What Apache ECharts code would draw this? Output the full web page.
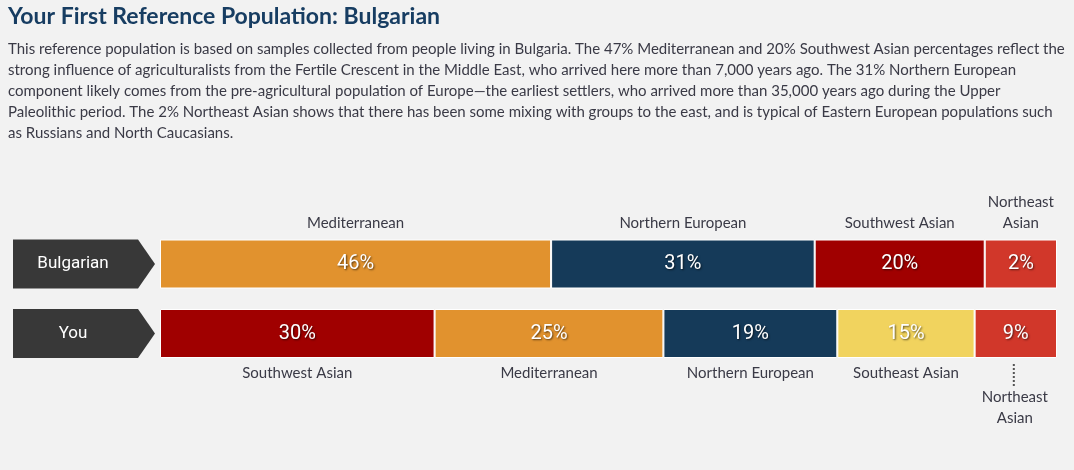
<!DOCTYPE html>
<html>
<head>
<meta charset="utf-8">
<script src="https://cdn.jsdelivr.net/npm/echarts@6/dist/echarts.min.js"></script>
<style>
html,body{margin:0;padding:0;background:#f2f2f2;}
#chart{width:1074px;height:470px;}
</style>
</head>
<body>
<div id="chart"></div>
<script>
// ---- data ----
const headingText = 'Your First Reference Population: Bulgarian';
const paragraphLines = [
  'This reference population is based on samples collected from people living in Bulgaria. The 47% Mediterranean and 20% Southwest Asian percentages reflect the',
  'strong influence of agriculturalists from the Fertile Crescent in the Middle East, who arrived here more than 7,000 years ago. The 31% Northern European',
  'component likely comes from the pre-agricultural population of Europe\u2014the earliest settlers, who arrived more than 35,000 years ago during the Upper',
  'Paleolithic period. The 2% Northeast Asian shows that there has been some mixing with groups to the east, and is typical of Eastern European populations such',
  'as Russians and North Caucasians.'
];
const rowLabels = ['Bulgarian', 'You'];
const bulgarianNames = ['Mediterranean', 'Northern European', 'Southwest Asian', 'Northeast Asian'];
const bulgarianValues = [46, 31, 20, 2];
const youNames = ['Southwest Asian', 'Mediterranean', 'Northern European', 'Southeast Asian', 'Northeast Asian'];
const youValues = [30, 25, 19, 15, 9];

// ---- styling ----
const colorByName = {
  'Mediterranean': '#e1922e',
  'Northern European': '#153a59',
  'Southwest Asian': '#a00000',
  'Northeast Asian': '#d1372a',
  'Southeast Asian': '#f1d35e'
};
const MIN_SEGMENT = 8.5;      // narrow segments are widened so their label fits
const NARROW_PX = 100;        // segments narrower than this get wrapped names
const textColor = '#3a3a46';
const gridLeft = 160, gridRight = 17, barH = 49;
const rowTops = [239.5, 309];

const rows = [
  {label: rowLabels[0], names: bulgarianNames, values: bulgarianValues, namesAbove: true},
  {label: rowLabels[1], names: youNames, values: youValues, namesAbove: false}
];

const grids = [], xAxes = [], yAxes = [], series = [];
rows.forEach((row, r) => {
  const widths = row.values.map(v => Math.max(v, MIN_SEGMENT));
  const total = widths.reduce((a, b) => a + b, 0);
  grids.push({left: gridLeft, right: gridRight, top: rowTops[r], height: barH});
  xAxes.push({type: 'value', gridIndex: r, min: 0, max: total, show: false});
  yAxes.push({type: 'category', gridIndex: r, data: [row.label], show: false});

  // segments
  row.names.forEach((name, i) => {
    series.push({
      type: 'bar', xAxisIndex: r, yAxisIndex: r, stack: 'row' + r,
      barWidth: '100%', silent: true, animation: false,
      data: [widths[i]],
      itemStyle: {color: colorByName[name], borderColor: '#ffffff', borderWidth: 1},
      label: {
        show: true, position: 'inside', color: '#ffffff',
        formatter: () => row.values[i] + '%',
        fontFamily: 'Roboto', fontSize: 20, fontWeight: 400,
        textShadowColor: 'rgba(0,0,0,0.6)', textShadowBlur: 2,
        textShadowOffsetX: 1, textShadowOffsetY: 1
      }
    });
  });

  // segment names
  let acc = 0;
  const nameData = row.names.map((name, i) => {
    const d = [acc, acc + widths[i], 0, name];
    acc += widths[i];
    return d;
  });
  series.push({
    type: 'custom', xAxisIndex: r, yAxisIndex: r, silent: true, animation: false,
    data: nameData,
    encode: {x: [0, 1], y: 2},
    renderItem: (params, api) => {
      const s = api.coord([api.value(0), 0]);
      const e = api.coord([api.value(1), 0]);
      const bandH = api.size([0, 1])[1];
      const cx = (s[0] + e[0]) / 2;
      const name = nameData[params.dataIndex][3];
      const narrow = (e[0] - s[0]) < NARROW_PX;
      const txt = narrow ? name.replace(' ', '\n') : name;
      const baseStyle = {
        text: txt, fill: textColor, fontFamily: 'Lato', fontSize: 15,
        align: 'center', lineHeight: 21
      };
      if (row.namesAbove) {
        return {type: 'text', style: Object.assign({x: cx, y: s[1] - bandH / 2 - 6, verticalAlign: 'bottom'}, baseStyle)};
      }
      const bottom = s[1] + bandH / 2;
      if (!narrow) {
        return {type: 'text', style: Object.assign({x: cx, y: bottom + 5, verticalAlign: 'top'}, baseStyle)};
      }
      return {type: 'group', children: [
        {type: 'line', shape: {x1: cx - 2, y1: bottom + 6, x2: cx - 2, y2: bottom + 29},
         style: {stroke: '#555555', lineWidth: 2, lineDash: [2, 2]}},
        {type: 'text', style: Object.assign({x: cx - 1, y: bottom + 29, verticalAlign: 'top'}, baseStyle)}
      ]};
    }
  });

  // arrow-shaped row label
  series.push({
    type: 'custom', xAxisIndex: r, yAxisIndex: r, silent: true, animation: false,
    data: [[0, 0]],
    encode: {x: 0, y: 1},
    renderItem: (params, api) => {
      const p = api.coord([0, 0]);
      const h = api.size([0, 1])[1];
      const top = p[1] - h / 2, bot = p[1] + h / 2;
      const x0 = p[0] - 147, xr = p[0] - 22, tip = p[0] - 5;
      return {type: 'group', children: [
        {type: 'polygon', shape: {points: [[x0, top], [xr, top], [tip, p[1]], [xr, bot], [x0, bot]]},
         style: {fill: '#383838'}},
        {type: 'text', style: {text: row.label, x: p[0] - 87, y: p[1], align: 'center', verticalAlign: 'middle',
          fill: '#ffffff', fontFamily: 'Roboto', fontSize: 17, fontWeight: 400}}
      ]};
    }
  });
});

const chart = echarts.init(document.getElementById('chart'), null, {renderer: 'canvas'});
chart.setOption({
  backgroundColor: '#f2f2f2',
  animation: false,
  title: [
    {text: headingText, left: 8, top: 3, padding: 0,
     textStyle: {color: '#173d62', fontFamily: 'Lato', fontSize: 23, fontWeight: 'bold', lineHeight: 28}},
    {text: paragraphLines.join('\n'), left: 8, top: 39, padding: 0,
     textStyle: {color: textColor, fontFamily: 'Lato', fontSize: 15, fontWeight: 'normal', lineHeight: 21}}
  ],
  grid: grids, xAxis: xAxes, yAxis: yAxes, series: series
});
</script>
</body>
</html>
